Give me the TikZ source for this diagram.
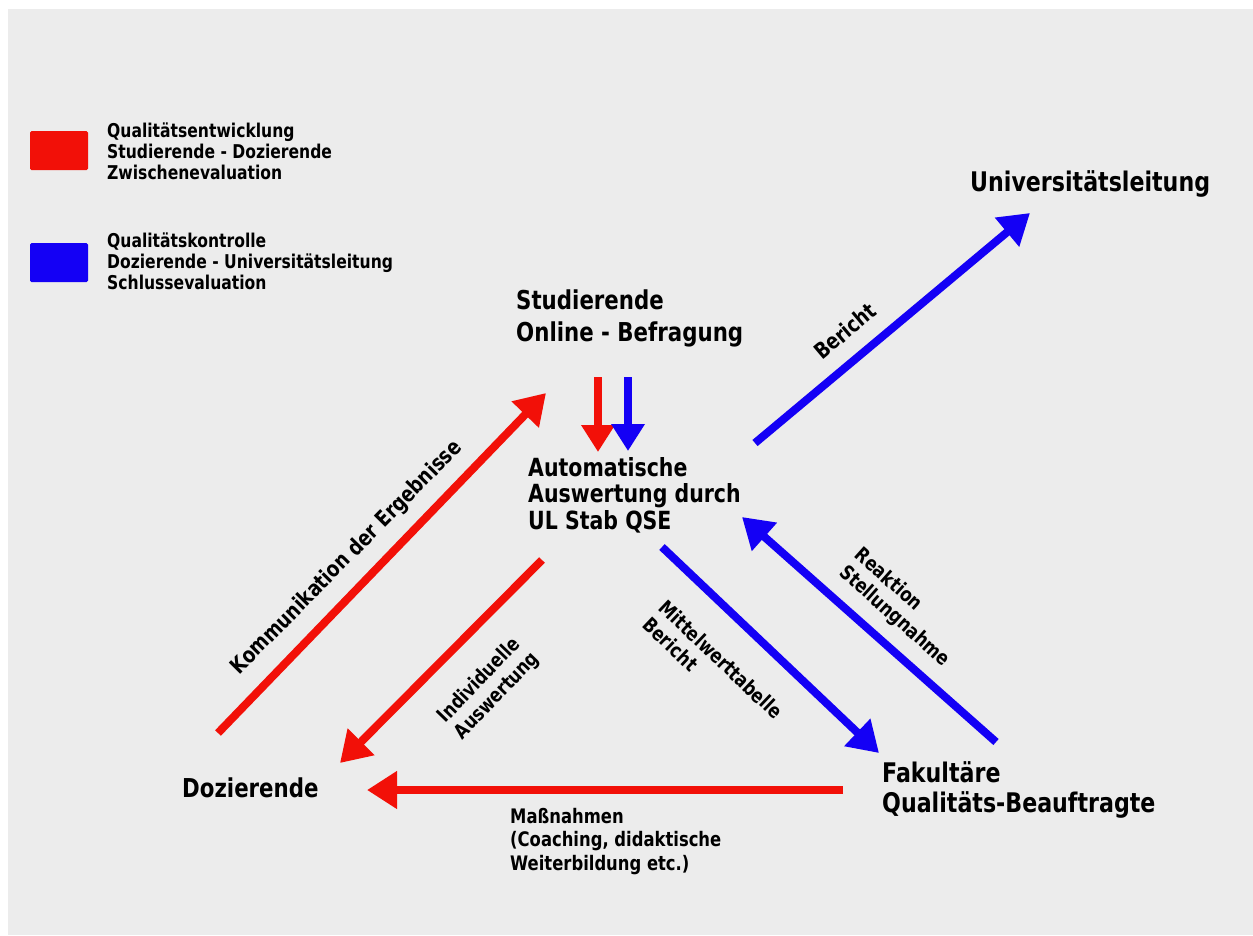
\documentclass[tikz,border=0pt]{standalone}
\usepackage{fontspec}
\setmainfont{DejaVu Sans}[FakeStretch=0.82]
\usetikzlibrary{arrows.meta}
\definecolor{myred}{RGB}{242,16,8}
\definecolor{myblue}{RGB}{20,0,245}
\definecolor{paper}{RGB}{236,236,236}
\tikzset{
  main/.style={anchor=north west, inner sep=0pt, align=left, font=\bfseries\fontsize{26}{32}\selectfont},
  leg/.style={anchor=north west, inner sep=0pt, align=left, font=\bfseries\fontsize{19}{20.8}\selectfont},
  lab/.style={inner sep=0pt, align=left, font=\bfseries\fontsize{20}{23.5}\selectfont},
  biglab/.style={inner sep=0pt, font=\bfseries\fontsize{22}{26}\selectfont},
  legbox/.style={rounded corners=1.5pt},
  flow/.style={line width=8pt, -{Triangle[length=30pt,width=36pt]}},
  sflow/.style={line width=8pt, -{Triangle[length=27pt,width=32pt]}},
}
\begin{document}
\begin{tikzpicture}[x=1pt,y=-1pt]
\useasboundingbox (0,0) rectangle (1253,935);
\fill[paper] (8,9) rectangle (1253,935);

% legend
\fill[myred,legbox] (30,131) rectangle (88,170);
\fill[myblue,legbox] (30,243) rectangle (88,282);
\node[leg] (legr) at (107,122.5) {Qualitätsentwicklung\\Studierende - Dozierende\\Zwischenevaluation};
\node[leg] (legb) at (107,232.5) {Qualitätskontrolle\\Dozierende - Universitätsleitung\\Schlussevaluation};

% main nodes
\node[main] (stud) at (516,290) {Studierende\\Online - Befragung};
\node[main, font=\bfseries\fontsize{25}{26.5}\selectfont] (ausw) at (528,457) {Automatische\\Auswertung durch\\UL Stab QSE};
\node[main, font=\bfseries\fontsize{27}{32}\selectfont] (ul) at (970,170) {Universitätsleitung};
\node[main] (doz) at (182,778) {Dozierende};
\node[main, font=\bfseries\fontsize{27}{30}\selectfont] (fak) at (882,761) {Fakultäre\\Qualitäts-Beauftragte};

% arrow end points
\coordinate (rd1) at (598,377); \coordinate (rd2) at (598,452);
\coordinate (bd1) at (628,377); \coordinate (bd2) at (628,451);
\coordinate (k1) at (218,733); \coordinate (k2) at (546,393);
\coordinate (i1) at (542,560); \coordinate (i2) at (340,763);
\coordinate (m1) at (843,790); \coordinate (m2) at (367,790);
\coordinate (f1) at (662,547); \coordinate (f2) at (879,753);
\coordinate (r1) at (996,742); \coordinate (r2) at (742,517);
\coordinate (u1) at (755,443); \coordinate (u2) at (1030,213);

% arrows
\draw[sflow, myred] (rd1) -- (rd2);
\draw[sflow, myblue] (bd1) -- (bd2);
\draw[flow, myred] (k1) -- (k2);
\draw[flow, myred] (i1) -- (i2);
\draw[flow, myred] (m1) -- (m2);
\draw[flow, myblue] (f1) -- (f2);
\draw[flow, myblue] (r1) -- (r2);
\draw[flow, myblue] (u1) -- (u2);

% labels
\node[biglab, rotate=45.4] (lk) at (347,558) {Kommunikation der Ergebnisse};
\node[lab, rotate=46] (li) at (489,688) {Individuelle\\Auswertung};
\node[lab, rotate=-43.5] (lm) at (713,668) {Mittelwerttabelle\\Bericht};
\node[lab, rotate=-41.6] (lr) at (902,608) {Reaktion\\Stellungnahme};
\node[biglab, rotate=40] (lb) at (845,331) {Bericht};
\node[lab, anchor=north west] (lmass) at (510,808) {Maßnahmen\\(Coaching, didaktische\\Weiterbildung etc.)};
\end{tikzpicture}
\end{document}
